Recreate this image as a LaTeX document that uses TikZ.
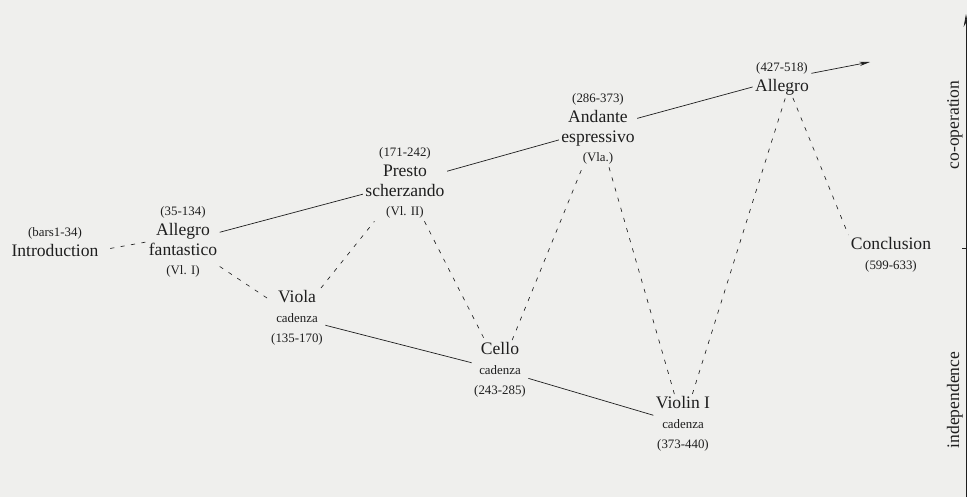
\documentclass[tikz,border=0pt]{standalone}
\usepackage{fontspec}
\setmainfont{Liberation Serif}
\usetikzlibrary{arrows.meta}
\usetikzlibrary{positioning}

\definecolor{paper}{RGB}{239,239,237}
\definecolor{ink}{RGB}{30,30,30}

\tikzset{
  part/.style={align=center, font=\fontsize{15}{17}\selectfont, text=ink, inner sep=2pt},
  tie/.style={draw=ink, line width=0.6pt},
  loose/.style={draw=ink, line width=0.55pt, dash pattern=on 3.5pt off 5.5pt},
}
\newcommand{\bars}[1]{{\fontsize{11}{12}\selectfont #1}}

\begin{document}
\begin{tikzpicture}
        \fill[paper] (0, 0) rectangle (29.01, 14.91);
        \useasboundingbox (0, 0) rectangle (29.01, 14.91);

        \node[part] (intro) at (1.65, 7.65) {\bars{(bars1-34)}\\Introduction};
        \node[part] (fantastico) at (5.49, 7.65) {\bars{(35-134)}\\Allegro\\fantastico\\\bars{(Vl. I)}};
        \node[part] (viola) at (8.91, 5.37) {Viola\\\bars{cadenza}\\\bars{(135-170)}};
        \node[part] (presto) at (12.15, 9.42) {\bars{(171-242)}\\Presto\\scherzando\\\bars{(Vl. II)}};
        \node[part] (cello) at (15.0, 3.81) {Cello\\\bars{cadenza}\\\bars{(243-285)}};
        \node[part] (andante) at (17.94, 11.04) {\bars{(286-373)}\\Andante\\espressivo\\\bars{(Vla.)}};
        \node[part] (violin) at (20.49, 2.19) {Violin I\\\bars{cadenza}\\\bars{(373-440)}};
        \node[part] (allegro) at (23.46, 12.54) {\bars{(427-518)}\\Allegro};
        \node[part] (conclusion) at (26.73, 7.26) {Conclusion\\\bars{(599-633)}};
        \coordinate (onward) at (26.1, 13.05);

        % solid line: tutti sections
        \draw[tie] (fantastico) -- (presto);
        \draw[tie] (presto) -- (andante);
        \draw[tie] (andante) -- (allegro);
        \draw[tie, -{Stealth[length=9pt, width=3.5pt]}] (allegro) -- (onward);
        \draw[tie] (viola) -- (cello);
        \draw[tie] (cello) -- (violin);

        % dashed line: passing between tutti and cadenza
        \draw[loose, shorten <=8pt] (intro.-10) -- (fantastico.west);
        \draw[loose] (fantastico) -- (viola);
        \draw[loose] (viola) -- (presto);
        \draw[loose] (presto) -- (cello);
        \draw[loose] (cello) -- (andante);
        \draw[loose] (andante) -- (violin);
        \draw[loose] (violin) -- (allegro.-80);
        \draw[loose] (allegro.-60) -- (conclusion.north west);

        % scale on the right
        \coordinate (low) at (28.98, 0);
        \coordinate (high) at (28.98, 14.49);
        \coordinate (mid) at (28.98, 7.47);
        \coordinate (notch) at (28.86, 7.47);
        \draw[tie, -{Stealth[length=11pt, width=4pt]}] (low) -- (high);
        \draw[tie] (notch) -- (mid);
        \node[part, rotate=90] (together) at (28.65, 11.16) {co-operation};
        \node[part, rotate=90] (alone) at (28.65, 2.91) {independence};
    \end{tikzpicture}
\end{document}
